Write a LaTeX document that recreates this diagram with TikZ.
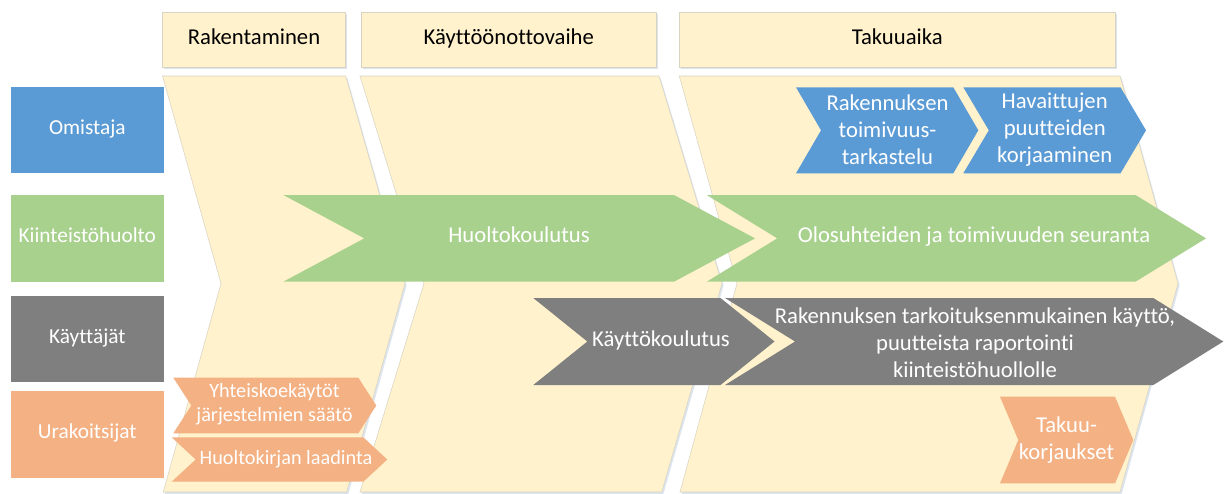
\documentclass[tikz,border=0pt]{standalone}
\usepackage{fontspec}
\setmainfont[Ligatures={NoCommon}]{Carlito}

\definecolor{band}{HTML}{FFF2CC}
\definecolor{bandline}{HTML}{D8D3C3}
\definecolor{shade}{HTML}{DCE4EE}
\definecolor{owner}{HTML}{5B9BD5}
\definecolor{maint}{HTML}{A9D18E}
\definecolor{users}{HTML}{7F7F7F}
\definecolor{contr}{HTML}{F4B183}

\tikzset{
  phase/.style={fill=band, draw=bandline, line width=0.4pt,
    preaction={fill=shade, transform canvas={shift={(1.2pt,-1.5pt)}}}},
  oneline/.style={text height=0.64em, text depth=0pt},
  hdrtext/.style={inner sep=0pt, oneline, text=black, font=\fontsize{17}{20.5}\selectfont},
  roletext/.style={inner sep=0pt, oneline, text=white, font=\fontsize{16}{19}\selectfont},
  arrowtext/.style={inner sep=0pt, text=white, align=center, font=\fontsize{17}{20.3}\selectfont},
  singletext/.style={inner sep=0pt, oneline, text=white, font=\fontsize{17}{20.3}\selectfont},
  smalltext/.style={inner sep=0pt, text=white, align=center, font=\fontsize{15.2}{18.2}\selectfont},
}

% chevron: style, left x, right x (top-right corner), top y, bottom y, depth
\newcommand\chevpath[6]{%
  \path[#1] (#2,#4) -- (#3,#4) -- ({#3+#6},{(#4+#5)/2}) -- (#3,#5) -- (#2,#5)
    -- ({#2+#6},{(#4+#5)/2}) -- cycle;}

\begin{document}
\begin{tikzpicture}[x=0.75pt, y=-0.75pt]
\useasboundingbox (0,0) rectangle (1230,493);
\fill[white] (0,0) rectangle (1230,493);

% phase headers
\path[phase] (162.5,12.3) rectangle (345.7,67.3);
\path[phase] (361,12.3) rectangle (656.7,67.3);
\path[phase] (679.3,12.3) rectangle (1115,67.3);
\node[hdrtext] (h1) at (254,39.8) {Rakentaminen};
\node[hdrtext] (h2) at (508.8,39.8) {Käyttöönottovaihe};
\node[hdrtext] (h3) at (897.2,39.8) {Takuuaika};

% phase bands
\path[phase] (162.5,76) -- (345.7,76) -- (405,283.5) -- (346.7,492) -- (163.3,492) -- (221,283.5) -- cycle;
\path[phase] (360,76) -- (659,76) -- (722,283.5) -- (661.7,492) -- (360,492) -- (424,283.5) -- cycle;
\path[phase] (679.3,76) -- (1120,76) -- (1178,283.5) -- (1120,492) -- (680,492) -- (737,283.5) -- cycle;

% role boxes
\fill[owner] (11,87) rectangle (163.5,173);
\fill[maint] (11,195) rectangle (163.5,282);
\fill[users] (11,296) rectangle (163.5,382.3);
\fill[contr] (11,390.7) rectangle (163.5,477.7);
\node[roletext] (r1) at (87.3,130) {Omistaja};
\node[roletext] (r2) at (87.3,238.5) {Kiinteistöhuolto};
\node[roletext] (r3) at (87.3,339.2) {Käyttäjät};
\node[roletext] (r4) at (87.3,434.2) {Urakoitsijat};

% owner tasks
\chevpath{fill=owner}{796}{953.3}{87.3}{173.3}{25}
\chevpath{fill=owner}{963.3}{1120.5}{87.3}{173.3}{25.5}
\node[arrowtext] (o1) at (887.5,130) {Rakennuksen\\toimivuus-\\tarkastelu};
\node[arrowtext] (o2) at (1054.7,130) {Havaittujen\\puutteiden\\korjaaminen};

% maintenance tasks
\chevpath{fill=maint}{283.3}{674}{195}{281.7}{81}
\chevpath{fill=maint}{706.7}{1135.5}{195}{281.7}{70.5}
\node[singletext] (m1) at (519,238.6) {Huoltokoulutus};
\node[singletext] (m2) at (974,238.6) {Olosuhteiden ja toimivuuden seuranta};

% user tasks
\chevpath{fill=users}{533.3}{720.5}{298}{385}{54}
\chevpath{fill=users}{725}{1153.3}{298}{385}{70}
\node[singletext] (u1) at (661,341.8) {Käyttökoulutus};
\node[arrowtext] (u2) at (975,342.3) {Rakennuksen tarkoituksenmukainen käyttö,\\puutteista raportointi\\kiinteistöhuollolle};

% contractor tasks
\chevpath{fill=contr}{173.3}{358.3}{377.7}{433.3}{18}
\chevpath{fill=contr}{171.7}{363.3}{437.3}{481.7}{24}
\chevpath{fill=contr}{1000}{1115}{396.7}{483.3}{18.3}
\node[smalltext] (c1) at (274.5,404) {Yhteiskoekäytöt\\järjestelmien säätö};
\node[smalltext, oneline] (c2) at (286,459.8) {Huoltokirjan laadinta};
\node[arrowtext] (c3) at (1066.5,440.3) {Takuu-\\korjaukset};
\end{tikzpicture}
\end{document}
